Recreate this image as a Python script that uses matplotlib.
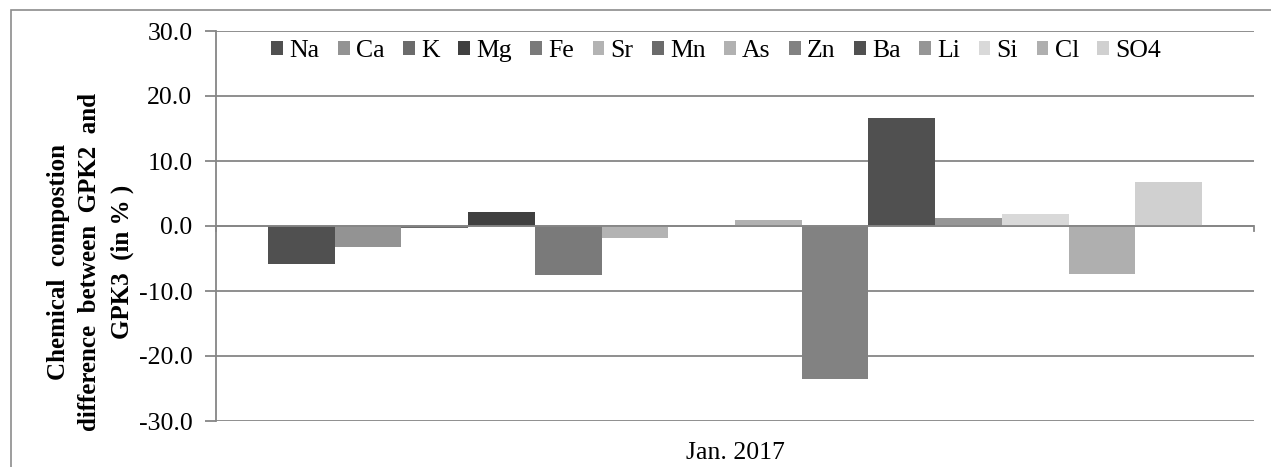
import matplotlib
matplotlib.use("Agg")
import matplotlib.pyplot as plt
from matplotlib.patches import Rectangle
import numpy as np

# Composition difference between GPK2 and GPK3 for each species (in %)
species = ["Na", "Ca", "K", "Mg", "Fe", "Sr", "Mn", "As", "Zn", "Ba", "Li", "Si", "Cl", "SO4"]
differences = [-5.8, -3.3, -0.3, 2.2, -7.6, -1.8, 0.0, 0.9, -23.5, 16.6, 1.2, 1.8, -7.4, 6.8]
bar_colors = ["#505050", "#939393", "#6b6b6b", "#404040", "#7a7a7a", "#b3b3b3", "#6b6b6b",
              "#b1b1b1", "#828282", "#505050", "#969696", "#d9d9d9", "#afafaf", "#d0d0d0"]
category = "Jan. 2017"
y_ticks = [-30.0, -20.0, -10.0, 0.0, 10.0, 20.0, 30.0]

plt.rcParams["font.family"] = ["Liberation Serif", "DejaVu Serif"]
plt.rcParams["axes.unicode_minus"] = False

W, H, DPI = 1271, 467, 100
fig = plt.figure(figsize=(W / DPI, H / DPI), dpi=DPI)
fig.patch.set_facecolor("white")

# outer chart frame
fig.patches.append(Rectangle((11 / W, -0.1), 1.2, 1 - 10 / H + 0.1, transform=fig.transFigure,
                             fill=False, edgecolor="#8c8c8c", linewidth=1.2))

left, right, top, bottom = 216 / W, 1254 / W, 1 - 31 / H, 1 - 421 / H
ax = fig.add_axes([left, bottom, right - left, top - bottom])

grid_color = "#868686"
n = len(species)
group_width = 0.9
bw = group_width / n
x0 = -group_width / 2 + bw / 2
handles = []
for i, (name, val, col) in enumerate(zip(species, differences, bar_colors)):
    b = ax.bar(x0 + i * bw, val, width=bw, color=col, edgecolor="none", label=name, zorder=2)
    handles.append(b)

ax.set_xlim(-0.5, 0.5)
ax.set_ylim(-30, 30)
ax.set_yticks(y_ticks)
ax.set_yticklabels([f"{v:.1f}" for v in y_ticks], fontsize=18.5)
ax.yaxis.grid(True, color=grid_color, linewidth=1.3, zorder=0)
ax.set_axisbelow(True)

for s in ["top", "right", "bottom"]:
    ax.spines[s].set_visible(False)
ax.spines["left"].set_color(grid_color)
ax.spines["left"].set_linewidth(1.3)
ax.tick_params(axis="y", length=8, width=1.3, color=grid_color, pad=9)
ax.set_xticks([])

# category axis along the zero line, with boundary tick marks
ax.axhline(0, color=grid_color, linewidth=1.3, zorder=3)
for xb in (-0.5, 0.5):
    ax.plot([xb, xb], [0, -0.8], color=grid_color, linewidth=1.3, zorder=3, clip_on=False)

ax.text(0, -30 - 32 * 60 / 390, category, ha="center", va="center", fontsize=18.5)

ax.legend(handles=handles, loc="center", bbox_to_anchor=(0.482, 1 - 20 / 390), ncol=n,
          frameon=False, fontsize=18.5, handlelength=0.45, handleheight=0.45,
          handletextpad=0.25, columnspacing=0.72, borderaxespad=0)

ylab = ["Chemical  compostion", "difference  between  GPK2  and", "GPK3  (in % )"]
for k, line in enumerate(ylab):
    fig.text((58 + 32 * k) / W, 1 - 262 / H, line, rotation=90, ha="center", va="center",
             fontsize=18, fontweight="bold")

fig.savefig("out.png", dpi=DPI)
